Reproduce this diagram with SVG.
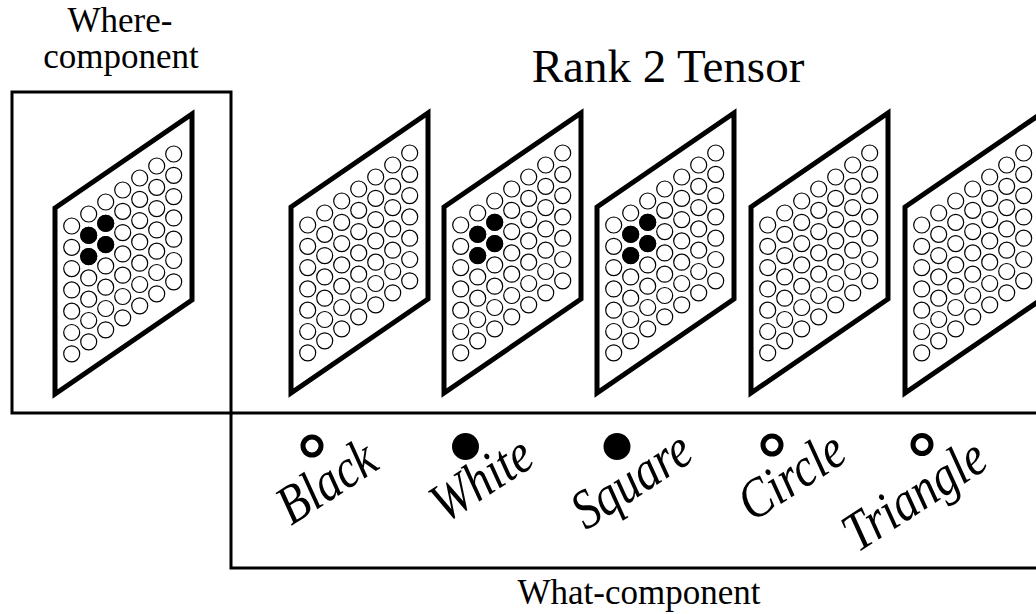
<svg xmlns="http://www.w3.org/2000/svg" width="1036" height="614" viewBox="0 0 1036 614">
<style>
.frame{fill:none;stroke:#000;stroke-width:3}
.c{fill:#fff;stroke:#000;stroke-width:1.2}
.dot{fill:#000}
.ring{fill:#fff;stroke:#000;stroke-width:5}
</style>
<defs>
<g id="plane">
<path d="M0,0 L137,-94 L137,92 L0,186 Z" fill="#fff" stroke="#000" stroke-width="5"/>
<g class="c">
<circle cx="16.7" cy="18" r="8"/><circle cx="16.7" cy="39.3" r="8"/><circle cx="16.7" cy="60.6" r="8"/><circle cx="16.7" cy="81.9" r="8"/><circle cx="16.7" cy="103.2" r="8"/><circle cx="16.7" cy="124.5" r="8"/><circle cx="16.7" cy="145.8" r="8"/>
<circle cx="33.7" cy="6" r="8"/><circle cx="33.7" cy="27.3" r="8"/><circle cx="33.7" cy="48.6" r="8"/><circle cx="33.7" cy="69.9" r="8"/><circle cx="33.7" cy="91.2" r="8"/><circle cx="33.7" cy="112.5" r="8"/><circle cx="33.7" cy="133.8" r="8"/>
<circle cx="50.7" cy="-6" r="8"/><circle cx="50.7" cy="15.3" r="8"/><circle cx="50.7" cy="36.6" r="8"/><circle cx="50.7" cy="57.9" r="8"/><circle cx="50.7" cy="79.2" r="8"/><circle cx="50.7" cy="100.5" r="8"/><circle cx="50.7" cy="121.8" r="8"/>
<circle cx="67.7" cy="-18" r="8"/><circle cx="67.7" cy="3.3" r="8"/><circle cx="67.7" cy="24.6" r="8"/><circle cx="67.7" cy="45.9" r="8"/><circle cx="67.7" cy="67.2" r="8"/><circle cx="67.7" cy="88.5" r="8"/><circle cx="67.7" cy="109.8" r="8"/>
<circle cx="84.7" cy="-30" r="8"/><circle cx="84.7" cy="-8.7" r="8"/><circle cx="84.7" cy="12.6" r="8"/><circle cx="84.7" cy="33.9" r="8"/><circle cx="84.7" cy="55.2" r="8"/><circle cx="84.7" cy="76.5" r="8"/><circle cx="84.7" cy="97.8" r="8"/>
<circle cx="101.7" cy="-42" r="8"/><circle cx="101.7" cy="-20.7" r="8"/><circle cx="101.7" cy="0.6" r="8"/><circle cx="101.7" cy="21.9" r="8"/><circle cx="101.7" cy="43.2" r="8"/><circle cx="101.7" cy="64.5" r="8"/><circle cx="101.7" cy="85.8" r="8"/>
<circle cx="118.7" cy="-54" r="8"/><circle cx="118.7" cy="-32.7" r="8"/><circle cx="118.7" cy="-11.4" r="8"/><circle cx="118.7" cy="9.9" r="8"/><circle cx="118.7" cy="31.2" r="8"/><circle cx="118.7" cy="52.5" r="8"/><circle cx="118.7" cy="73.8" r="8"/>
</g>
</g>
<g id="blob" class="dot">
<circle cx="33.7" cy="27.3" r="8.5"/><circle cx="33.7" cy="48.6" r="8.5"/><circle cx="50.7" cy="15.3" r="8.5"/><circle cx="50.7" cy="36.6" r="8.5"/>
</g>
</defs>
<rect width="1036" height="614" fill="#fff"/>

<g id="connectors">
<rect class="frame" x="12" y="92" width="219" height="321"/>
<path class="frame" d="M231,413 L1036,413 M231,413 L231,568 L1036,568"/>
</g>

<g font-family="Liberation Serif, serif" fill="#000">
<g id="where-label">
<text x="120" y="32" font-size="35" text-anchor="middle">Where-</text>
<text x="121" y="68" font-size="35" text-anchor="middle">component</text>
</g>
<g id="title"><text x="668" y="82" font-size="47" text-anchor="middle">Rank 2 Tensor</text></g>
<g id="what-label"><text x="639" y="604" font-size="35" text-anchor="middle">What-component</text></g>
</g>

<g id="where-plane"><use href="#plane" x="55" y="208"/><use href="#blob" x="55" y="208"/></g>
<g id="plane-black"><use href="#plane" x="291" y="207"/></g>
<g id="plane-white"><use href="#plane" x="444" y="207"/><use href="#blob" x="444" y="207"/></g>
<g id="plane-square"><use href="#plane" x="597" y="207"/><use href="#blob" x="597" y="207"/></g>
<g id="plane-circle"><use href="#plane" x="751" y="207"/></g>
<g id="plane-triangle"><use href="#plane" x="905" y="207"/></g>

<g font-family="Liberation Serif, serif" font-style="italic" font-size="47" text-anchor="middle" fill="#000">
<g id="label-black"><circle class="ring" cx="312" cy="446" r="9"/><text transform="translate(336,497) rotate(-33) scale(1,1.18)">Black</text></g>
<g id="label-white"><circle class="dot" cx="465.5" cy="446.5" r="13.5"/><text transform="translate(491,494) rotate(-33) scale(1,1.18)">White</text></g>
<g id="label-square"><circle class="dot" cx="617" cy="446.5" r="13.5"/><text transform="translate(641,495) rotate(-33) scale(1,1.18)">Square</text></g>
<g id="label-circle"><circle class="ring" cx="772" cy="445" r="9"/><text transform="translate(801,491) rotate(-33) scale(1,1.18)">Circle</text></g>
<g id="label-triangle"><circle class="ring" cx="922" cy="444.5" r="9"/><text transform="translate(924,510) rotate(-33) scale(1,1.18)">Triangle</text></g>
</g>
</svg>
